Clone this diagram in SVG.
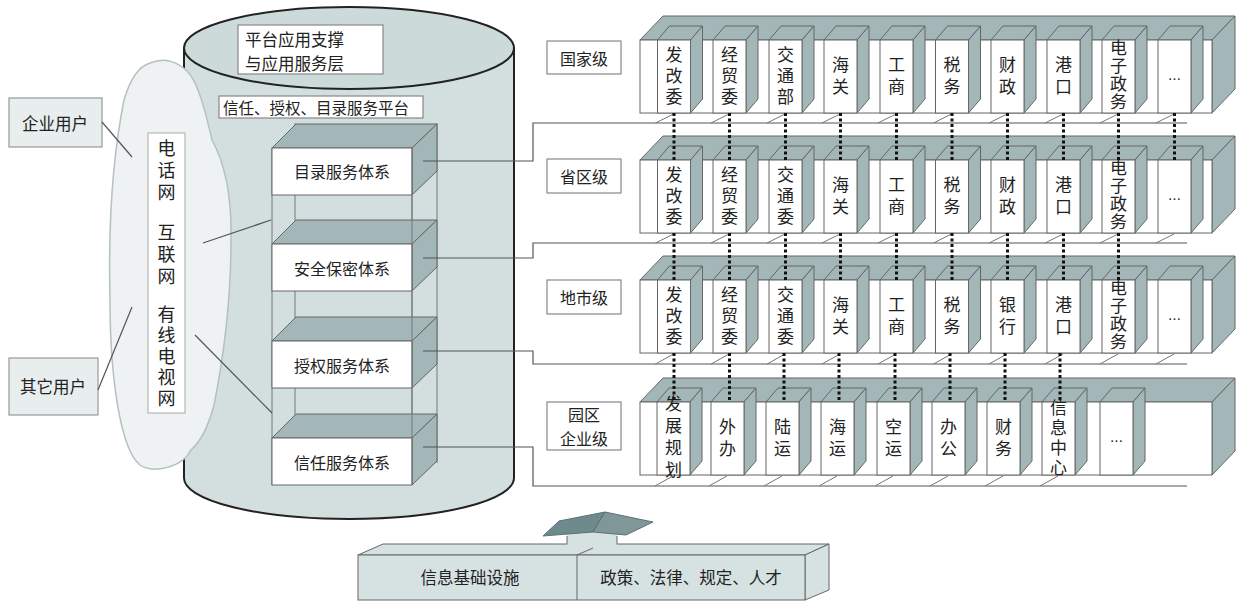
<svg xmlns="http://www.w3.org/2000/svg" xmlns:xlink="http://www.w3.org/1999/xlink" width="1248" height="603" viewBox="0 0 1248 603">
<style>
.f{fill:#fff;stroke:#666;stroke-width:1}
.g{fill:#a3b6b8;stroke:#666;stroke-width:1}
.lb{fill:#fff;stroke:#888;stroke-width:1.2}
.ul{fill:#e8eeee;stroke:#999;stroke-width:1.2}
.t{font-family:"Noto Sans CJK SC","Noto Sans CJK JP",sans-serif;fill:#222;dominant-baseline:central;text-anchor:middle;font-size:17px}
.v{writing-mode:vertical-rl}
.l4{letter-spacing:4px}
.l5{letter-spacing:5px}
.l1{letter-spacing:1px}
.l3{letter-spacing:3px}
.s16{font-size:16px}
.ln{fill:none;stroke:#555;stroke-width:1.2}
.fl{fill:none;stroke:#777;stroke-width:1}
.dot{fill:none;stroke:#111;stroke-width:3;stroke-dasharray:3 2.5}
.bl{fill:#d6e1e1;stroke:#666;stroke-width:1}
</style>
<defs>
<g id="bx"><polygon class="g" points="0,0 12,-14 45,-14 33,0"/><polygon class="g" points="33,0 45,-14 45,59 33,73"/><rect class="f" x="0" y="0" width="33" height="73"/></g>
<g id="sh"><polygon class="g" points="640,40 663,16 1235,16 1212,40"/><polygon class="g" points="1212,40 1235,16 1235,89 1212,113"/><rect class="f" x="640" y="40" width="572" height="73"/></g>
<g id="sbox"><polygon class="g" points="0,0 24,-24 165,-24 140,0"/><polygon class="g" points="140,0 165,-24 165,23 140,47"/><rect class="f" x="0" y="0" width="140" height="47"/></g>
</defs>
<rect width="1248" height="603" fill="#fff"/>

<!-- cylinder -->
<g id="cylinder">
<path d="M184,48 L184,478 A165,41 0 0 0 514,478 L514,48 Z" fill="#d3dfdf" stroke="#222" stroke-width="2"/>
<ellipse cx="349" cy="48" rx="165" ry="41" fill="#cddada" stroke="#222" stroke-width="2"/>
<rect class="lb" x="238" y="25" width="145" height="49"/>
<text class="t" style="text-anchor:start;font-size:16.5px" x="245" y="38.5">平台应用支撑</text>
<text class="t" style="text-anchor:start;font-size:16.5px" x="245" y="62.5">与应用服务层</text>
<rect class="lb" x="219" y="96" width="204" height="22"/>
<text class="t" x="316" y="107" style="font-size:15.5px">信任、授权、目录服务平台</text>
</g>

<!-- cloud -->
<g id="cloud">
<path d="M150,63 C165,57 178,62 187,71 C198,82 205,110 212,140 C224,162 232,195 231,240 C231,300 223,360 214,405 C208,428 200,442 191,450 C182,468 152,474 140,465 C121,450 110,380 110,300 C108,220 114,150 124,100 C131,76 140,66 150,63 Z" fill="#eef2f2" stroke="#b5c0c0" stroke-width="1.5"/>
<rect x="148" y="133" width="37" height="280" fill="#fff" stroke="#aaa" stroke-width="1"/>
<text class="t v l4" x="166.5" y="172" style="font-size:18px">电话网</text>
<text class="t v l4" x="166.5" y="256" style="font-size:18px">互联网</text>
<text class="t v l3" x="166.5" y="358" style="font-size:18px">有线电视网</text>
</g>

<g id="user-ent"><rect class="ul" x="9" y="98" width="93" height="49"/><text class="t" x="55" y="123" style="font-size:16.5px">企业用户</text></g>
<g id="user-other"><rect class="ul" x="9" y="358" width="89" height="57"/><text class="t" x="53" y="386" style="font-size:16.5px">其它用户</text></g>

<!-- stack -->
<g id="stack">
<line class="fl" x1="295" y1="123" x2="295" y2="463"/>
<line class="fl" x1="437" y1="123" x2="437" y2="463"/>
<line class="fl" x1="272" y1="148" x2="272" y2="485"/>
<line class="fl" x1="412" y1="148" x2="412" y2="485"/>
<use href="#sbox" x="272" y="148"/>
<use href="#sbox" x="272" y="244"/>
<use href="#sbox" x="272" y="341"/>
<use href="#sbox" x="272" y="438"/>
<line class="fl" x1="412" y1="148" x2="412" y2="485"/>
<text class="t s16" x="342" y="171">目录服务体系</text>
<text class="t s16" x="342" y="268">安全保密体系</text>
<text class="t s16" x="342" y="365">授权服务体系</text>
<text class="t s16" x="342" y="462">信任服务体系</text>
</g>

<!-- level labels -->
<g id="lv1"><rect class="lb" x="547" y="41" width="74" height="33"/><text class="t s16" x="584" y="58">国家级</text></g>
<g id="lv2"><rect class="lb" x="547" y="159" width="74" height="34"/><text class="t s16" x="584" y="176">省区级</text></g>
<g id="lv3"><rect class="lb" x="547" y="280" width="74" height="34"/><text class="t s16" x="584" y="297">地市级</text></g>
<g id="lv4"><rect class="lb" x="547" y="402" width="74" height="48"/><text class="t s16" x="584" y="414">园区</text><text class="t s16" x="584" y="438">企业级</text></g>

<!-- row 1 -->
<g id="row1">
<use href="#sh"/>
<use href="#bx" x="657.5" y="40"/><use href="#bx" x="713" y="40"/><use href="#bx" x="769" y="40"/><use href="#bx" x="824" y="40"/><use href="#bx" x="880" y="40"/><use href="#bx" x="935.5" y="40"/><use href="#bx" x="991" y="40"/><use href="#bx" x="1047" y="40"/><use href="#bx" x="1102" y="40"/><use href="#bx" x="1158" y="40"/>
<text class="t v l4" x="674" y="78">发改委</text>
<text class="t v l4" x="729.5" y="78">经贸委</text>
<text class="t v l4" x="785.5" y="78">交通部</text>
<text class="t v l5" x="840.5" y="78.5">海关</text>
<text class="t v l5" x="896.5" y="78.5">工商</text>
<text class="t v l5" x="952" y="78.5">税务</text>
<text class="t v l5" x="1007.5" y="78.5">财政</text>
<text class="t v l5" x="1063.5" y="78.5">港口</text>
<text class="t v l1" x="1118.5" y="75.5">电子政务</text>
<text class="t" x="1174.5" y="78" style="font-size:13px">…</text>
</g>

<!-- row 2 -->
<g id="row2">
<use href="#sh" y="120"/>
<use href="#bx" x="657.5" y="160"/><use href="#bx" x="713" y="160"/><use href="#bx" x="769" y="160"/><use href="#bx" x="824" y="160"/><use href="#bx" x="880" y="160"/><use href="#bx" x="935.5" y="160"/><use href="#bx" x="991" y="160"/><use href="#bx" x="1047" y="160"/><use href="#bx" x="1102" y="160"/><use href="#bx" x="1158" y="160"/>
<text class="t v l4" x="674" y="198">发改委</text>
<text class="t v l4" x="729.5" y="198">经贸委</text>
<text class="t v l4" x="785.5" y="198">交通委</text>
<text class="t v l5" x="840.5" y="198.5">海关</text>
<text class="t v l5" x="896.5" y="198.5">工商</text>
<text class="t v l5" x="952" y="198.5">税务</text>
<text class="t v l5" x="1007.5" y="198.5">财政</text>
<text class="t v l5" x="1063.5" y="198.5">港口</text>
<text class="t v l1" x="1118.5" y="195.5">电子政务</text>
<text class="t" x="1174.5" y="198" style="font-size:13px">…</text>
</g>

<!-- row 3 -->
<g id="row3">
<use href="#sh" y="240"/>
<use href="#bx" x="657.5" y="280"/><use href="#bx" x="713" y="280"/><use href="#bx" x="769" y="280"/><use href="#bx" x="824" y="280"/><use href="#bx" x="880" y="280"/><use href="#bx" x="935.5" y="280"/><use href="#bx" x="991" y="280"/><use href="#bx" x="1047" y="280"/><use href="#bx" x="1102" y="280"/><use href="#bx" x="1158" y="280"/>
<text class="t v l4" x="674" y="318">发改委</text>
<text class="t v l4" x="729.5" y="318">经贸委</text>
<text class="t v l4" x="785.5" y="318">交通委</text>
<text class="t v l5" x="840.5" y="318.5">海关</text>
<text class="t v l5" x="896.5" y="318.5">工商</text>
<text class="t v l5" x="952" y="318.5">税务</text>
<text class="t v l5" x="1007.5" y="318.5">银行</text>
<text class="t v l5" x="1063.5" y="318.5">港口</text>
<text class="t v l1" x="1118.5" y="315.5">电子政务</text>
<text class="t" x="1174.5" y="318" style="font-size:13px">…</text>
</g>

<!-- row 4 -->
<g id="row4">
<use href="#sh" y="362"/>
<use href="#bx" x="657" y="402"/><use href="#bx" x="711" y="402"/><use href="#bx" x="766" y="402"/><use href="#bx" x="821" y="402"/><use href="#bx" x="877" y="402"/><use href="#bx" x="932" y="402"/><use href="#bx" x="987" y="402"/><use href="#bx" x="1042" y="402"/><use href="#bx" x="1100" y="402"/>
<text class="t v l5" x="673.5" y="439.5">发展规划</text>
<text class="t v l5" x="727.5" y="440.5">外办</text>
<text class="t v l5" x="782.5" y="440.5">陆运</text>
<text class="t v l5" x="837.5" y="440.5">海运</text>
<text class="t v l5" x="893.5" y="440.5">空运</text>
<text class="t v l5" x="948.5" y="440.5">办公</text>
<text class="t v l5" x="1003.5" y="440.5">财务</text>
<text class="t v l3" x="1058.5" y="439">信息中心</text>
<text class="t" x="1116.5" y="440" style="font-size:13px">…</text>
</g>

<!-- bottom block -->
<g id="base">
<rect class="bl" x="567" y="530" width="50" height="16" style="stroke:none"/>
<line class="fl" x1="567" y1="536" x2="567" y2="544" style="stroke:#666"/>
<line class="fl" x1="617" y1="536" x2="617" y2="544" style="stroke:#666"/>
<polygon points="543,536 559,521 605,512 593,532" fill="#6f8a8c" stroke="#5a7274" stroke-width="1"/>
<polygon points="593,532 605,512 653,522 626,535" fill="#809799" stroke="#5a7274" stroke-width="1"/>
<polygon class="bl" points="358,555 383,544 567,544 617,544 829,544 805,555"/>
<rect class="bl" x="567.5" y="543" width="49" height="3" style="stroke:none"/>
<polygon class="bl" points="805,555 829,544 829,590 805,600"/>
<rect class="bl" x="358" y="555" width="447" height="45"/>
<line class="fl" x1="577" y1="555" x2="577" y2="600" style="stroke:#666"/>
<line class="fl" x1="577" y1="555" x2="593" y2="548" style="stroke:#666"/>
<text class="t" x="470" y="577" style="font-size:16.5px">信息基础设施</text>
<text class="t" x="691" y="577" style="font-size:16.5px">政策、法律、规定、人才</text>
</g>

<!-- connectors -->
<g id="connectors">
<line class="ln" x1="102" y1="122" x2="132" y2="157"/>
<line class="ln" x1="98" y1="390" x2="132" y2="307"/>
<line class="ln" x1="203" y1="243" x2="271" y2="220"/>
<line class="ln" x1="195" y1="335" x2="272" y2="413"/>
<path class="ln" d="M423,161 H533 V123 H1187"/>
<path class="ln" d="M423,258 H533 V243 H1187"/>
<path class="ln" d="M423,351 H533 V364 H1187"/>
<path class="ln" d="M423,447 H533 V486 H1187"/>
<g class="fl">
<path d="M655.5,123 L673.5,114 M711,123 L729,114 M767,123 L785,114 M822,123 L840,114 M878,123 L896,114 M933.5,123 L951.5,114 M989,123 L1007,114 M1045,123 L1063,114 M1100,123 L1118,114 M1156,123 L1174,114"/>
<path d="M655.5,243 L673.5,234 M711,243 L729,234 M767,243 L785,234 M822,243 L840,234 M878,243 L896,234 M933.5,243 L951.5,234 M989,243 L1007,234 M1045,243 L1063,234 M1100,243 L1118,234 M1156,243 L1174,234"/>
<path d="M655.5,364 L673.5,354 M711,364 L729,354 M767,364 L785,354 M822,364 L840,354 M878,364 L896,354 M933.5,364 L951.5,354 M989,364 L1007,354 M1045,364 L1063,354 M1100,364 L1118,354 M1156,364 L1174,354"/>
<path d="M655,486 L673,476 M709,486 L727,476 M764,486 L782,476 M819,486 L837,476 M875,486 L893,476 M930,486 L948,476 M985,486 L1003,476 M1040,486 L1058,476"/>
</g>
<path class="dot" d="M674,113 V160 M729.5,113 V160 M785.5,113 V160 M840.5,113 V160 M896.5,113 V160 M952,113 V160 M1007.5,113 V160 M1063.5,113 V160 M1118.5,113 V160 M1174.5,113 V160"/>
<path class="dot" d="M674,233 V280 M729.5,233 V280 M785.5,233 V280 M840.5,233 V280 M896.5,233 V280 M952,233 V280 M1007.5,233 V280 M1063.5,233 V280 M1118.5,233 V280"/>
<path class="dot" d="M674,353 V402 M729.5,353 V402 M784,353 V402 M839,353 V402 M895,353 V402 M950,353 V402 M1005,353 V402 M1060,353 V402"/>
</g>
</svg>
